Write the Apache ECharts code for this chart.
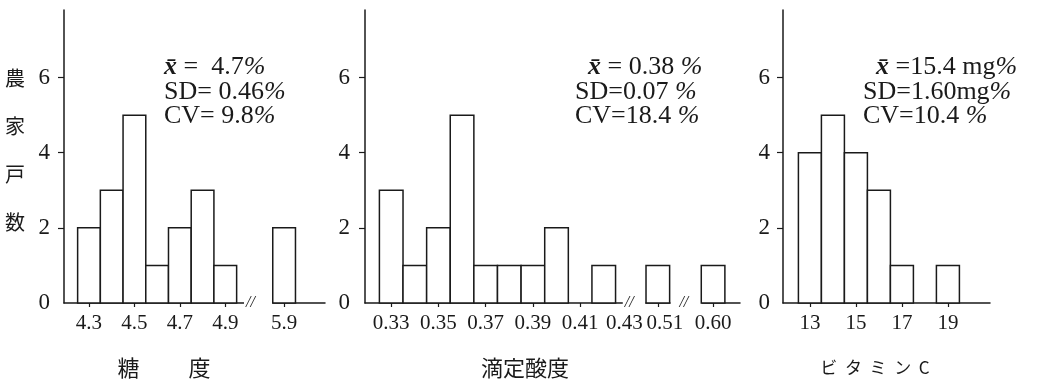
<!DOCTYPE html>
<html>
<head>
<meta charset="utf-8">
<script src="https://cdn.jsdelivr.net/npm/echarts@6/dist/echarts.min.js"></script>
<style>
  html, body { margin: 0; padding: 0; background: #fff; }
  #chart { width: 1043px; height: 383px; }
</style>
</head>
<body>
<div id="chart"></div>
<script>
// 糖度
var sugarBins = [4.3, 4.4, 4.5, 4.6, 4.7, 4.8, 4.9, 5.9];
var sugarCounts = [2, 3, 5, 1, 2, 3, 1, 2];
var sugarTicks = [4.3, 4.5, 4.7, 4.9, 5.9];
var sugarStats = ['{m|x̄} =  4.7{p|%}', 'SD= 0.46{p|%}', 'CV= 9.8{p|%}'];

// 滴定酸度
var acidBins = [0.33, 0.34, 0.35, 0.36, 0.37, 0.38, 0.39, 0.40, 0.42, 0.51, 0.60];
var acidCounts = [3, 1, 2, 5, 1, 1, 1, 2, 1, 1, 1];
var acidTicks = [0.33, 0.35, 0.37, 0.39, 0.41, 0.51, 0.60];
var acidLabels = [0.33, 0.35, 0.37, 0.39, 0.41, 0.43, 0.51, 0.60];
var acidStats = ['  {m|x̄} = 0.38 {p|%}', 'SD=0.07 {p|%}', 'CV=18.4 {p|%}'];

// ビタミンC
var vitcBins = [13, 14, 15, 16, 17, 19];
var vitcCounts = [4, 5, 4, 3, 1, 1];
var vitcTicks = [13, 15, 17, 19];
var vitcStats = ['  {m|x̄} =15.4 mg{p|%}', 'SD=1.60mg{p|%}', 'CV=10.4 {p|%}'];

var countTicks = [0, 2, 4, 6];

var serif = '"Liberation Serif", "DejaVu Serif", serif';
var cjk = '"Noto Sans CJK JP", sans-serif';
var ink = '#1a1a1a';

function pairs(xs, ys) {
    return xs.map(function (x, i) { return [x, ys[i]]; });
}

function histItem(half) {
    return function (params, api) {
        var x = api.value(0), y = api.value(1);
        var p0 = api.coord([x - half, y]);
        var p1 = api.coord([x + half, 0]);
        return {
            type: 'rect',
            shape: { x: p0[0], y: p0[1], width: p1[0] - p0[0], height: p1[1] - p0[1] },
            style: { fill: '#fff', stroke: ink, lineWidth: 1.5 }
        };
    };
}

// the two crowded labels beside the break are nudged apart, as in print
function acidLabel(v) {
    var s = Number(v).toFixed(2);
    if (s === '0.43') return '{l|' + s + '}';
    if (s === '0.51') return '{r|' + s + '}';
    return s;
}

function xAxisOf(idx, min, max, ticks, labels, fmt, breaks) {
    return {
        type: 'value', gridIndex: idx, min: min, max: max,
        splitLine: { show: false },
        breaks: breaks,
        breakArea: { show: false },
        axisLine: { lineStyle: { color: ink, width: 1.5 } },
        axisTick: { show: true, customValues: ticks, length: 4, lineStyle: { color: ink, width: 1.2 } },
        axisLabel: {
            customValues: labels, margin: 10, color: ink,
            fontFamily: serif, fontSize: 21,
            formatter: fmt,
            rich: {
                l: { fontFamily: serif, fontSize: 21, color: ink, padding: [0, 6, 0, 0] },
                r: { fontFamily: serif, fontSize: 21, color: ink, padding: [0, 0, 0, 14] }
            }
        }
    };
}

function yAxisOf(idx, margin) {
    return {
        type: 'value', gridIndex: idx, min: 0, max: 7.8,
        splitLine: { show: false },
        axisLine: { show: true, lineStyle: { color: ink, width: 1.5 } },
        axisTick: { show: true, customValues: [2, 4, 6], length: 6, lineStyle: { color: ink, width: 1.2 } },
        axisLabel: { customValues: countTicks, margin: margin, color: ink, fontFamily: serif, fontSize: 23 }
    };
}

function statsText(x, lines) {
    return {
        type: 'text', x: x, y: 55, z: 10,
        style: {
            text: lines.join('\n'),
            font: '26px ' + serif, fill: ink, lineHeight: 24.5,
            textVerticalAlign: 'top',
            rich: {
                m: { fontFamily: serif, fontSize: 26, fontStyle: 'italic', fontWeight: 'bold', fill: ink },
                p: { fontFamily: serif, fontSize: 26, fontStyle: 'italic', fill: ink }
            }
        }
    };
}

function titleText(x, text, size) {
    return {
        type: 'text', x: x, y: 368,
        style: { text: text, font: size + 'px ' + cjk, fill: ink, textAlign: 'center', textVerticalAlign: 'middle' }
    };
}

var chart = echarts.init(document.getElementById('chart'));

chart.setOption({
    backgroundColor: '#fff',
    animation: false,
    grid: [
        { left: 64, top: 10, width: 261, height: 293 },
        { left: 365, top: 10, width: 375, height: 293 },
        { left: 783, top: 10, width: 207, height: 293 }
    ],
    xAxis: [
        xAxisOf(0, 4.19, 6.08, sugarTicks, sugarTicks, function (v) { return Number(v).toFixed(1); },
            [{ start: 5.0, end: 5.85, gap: 0.109 }]),
        xAxisOf(1, 0.3189, 0.6114, acidTicks, acidLabels, acidLabel, [
            { start: 0.43, end: 0.505, gap: 0.0079 },
            { start: 0.515, end: 0.595, gap: 0.0134 }
        ]),
        xAxisOf(2, 11.83, 20.83, vitcTicks, vitcTicks, function (v) { return String(v); }, [])
    ],
    yAxis: [yAxisOf(0, 14), yAxisOf(1, 15), yAxisOf(2, 13)],
    series: [
        { type: 'custom', xAxisIndex: 0, yAxisIndex: 0, renderItem: histItem(0.05), data: pairs(sugarBins, sugarCounts) },
        { type: 'custom', xAxisIndex: 1, yAxisIndex: 1, renderItem: histItem(0.005), data: pairs(acidBins, acidCounts) },
        { type: 'custom', xAxisIndex: 2, yAxisIndex: 2, renderItem: histItem(0.5), data: pairs(vitcBins, vitcCounts) }
    ]
});

// break marks "//" on the x axes: [axis, break start, break end, where in the gap]
var breakMarks = [];
[[0, 5.0, 5.85, 0.1], [1, 0.43, 0.505, 0.1], [1, 0.515, 0.595, 0.45]].forEach(function (b) {
    var a = chart.convertToPixel({ xAxisIndex: b[0] }, b[1]);
    var c = chart.convertToPixel({ xAxisIndex: b[0] }, b[2]);
    breakMarks.push({
        type: 'text', x: a + (c - a) * b[3], y: 303, z: 20,
        style: {
            text: '//', font: 'italic 16px ' + serif, fill: ink,
            textAlign: 'center', textVerticalAlign: 'middle',
            backgroundColor: '#fff', padding: [0, 2]
        }
    });
});

chart.setOption({
    graphic: [
        {
            type: 'text', x: 15, y: 54,
            style: { text: '農\n家\n戸\n数', font: '20px ' + cjk, fill: ink, lineHeight: 48, textAlign: 'center', textVerticalAlign: 'top' }
        },
        statsText(164, sugarStats),
        statsText(575, acidStats),
        statsText(863, vitcStats),
        titleText(164, '糖　　 度', 22),
        titleText(525, '滴定酸度', 22),
        titleText(875, 'ビ  タ  ミ  ン  C', 17)
    ].concat(breakMarks)
});
</script>
</body>
</html>
